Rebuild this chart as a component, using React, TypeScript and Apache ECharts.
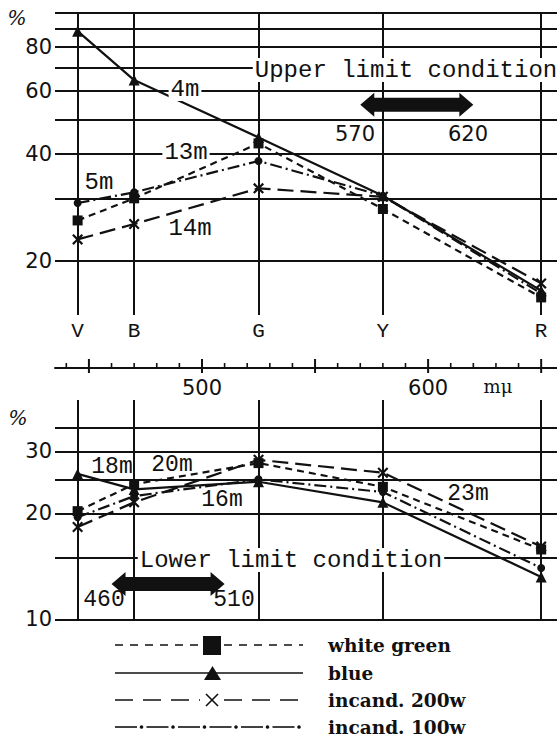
import React, { useEffect, useRef } from "react";
import * as echarts from "echarts";

// ---------- data ----------
const categories = ["V", "B", "G", "Y", "R"];
const wavelengths = [445, 470, 525, 580, 650];
const seriesNames = ["white green", "blue", "incand. 200w", "incand. 100w"];

// Upper limit condition (%)
const upperWhiteGreen = [26, 30, 42.8, 28, 15.8];
const upperBlue = [88.5, 64.5, 44.5, 30.5, 16.5];
const upper200w = [23, 25.4, 32, 30.3, 17.3];
const upper100w = [29.1, 31.2, 38.2, 30.5, 16.2];

// Lower limit condition (%)
const lowerWhiteGreen = [20.3, 24.2, 27.8, 23.8, 15.8];
const lowerBlue = [25.9, 23.4, 24.6, 21.5, 13.2];
const lower200w = [18.3, 21.5, 28.4, 26.1, 16.1];
const lower100w = [19.5, 22.4, 25, 23, 14];

const upperGridValues = [20, 30, 40, 50, 60, 70, 80, 90, 100];
const upperTickLabels = [20, 40, 60, 80];
const lowerGridValues = [10, 15, 20, 25, 30, 35];
const lowerTickLabels = [10, 20, 30];

const majorTicks = [450, 500, 550, 600, 650];
const minorTicks = [440, 460, 470, 480, 490, 510, 520, 530, 540, 560, 570, 580, 590, 610, 620, 630, 640];
const wavelengthLabels = [500, 600];

const upperRange = [570, 620];
const lowerRange = [460, 510];

// ---------- styles ----------
const INK = "#111";
const XPATH =
  "path://M0,1.4L1.4,0L5,3.6L8.6,0L10,1.4L6.4,5L10,8.6L8.6,10L5,6.4L1.4,10L0,8.6L3.6,5Z";
const lineTypes: any[] = [[7, 5], "solid", [16, 7], [12, 4, 2, 4]];
const symbols = ["rect", "triangle", XPATH, "circle"];
const symbolSizes = [10, 11, 11, 8];

const upperSeries = [upperWhiteGreen, upperBlue, upper200w, upper100w];
const lowerSeries = [lowerWhiteGreen, lowerBlue, lower200w, lower100w];

const MONO = "Liberation Mono";
const SANS = "DejaVu Sans";

function dataSeries(values: number[], idx: number, grid: number) {
  return {
    type: "line",
    name: seriesNames[idx],
    xAxisIndex: grid,
    yAxisIndex: grid,
    data: wavelengths.map((w, i) => [w, values[i]]),
    symbol: symbols[idx],
    symbolSize: symbolSizes[idx],
    lineStyle: { color: INK, width: 2.2, type: lineTypes[idx] },
    itemStyle: { color: INK },
    z: 5,
    silent: true,
  };
}

function gridLineSeries(grid: number, values: number[], labels: number[], withCats: boolean) {
  const data: any[] = values.map((v) => ({
    yAxis: v,
    label: {
      show: labels.includes(v),
      position: "start",
      formatter: String(v),
      distance: 3,
      fontFamily: SANS,
      fontSize: 21,
      color: INK,
    },
  }));
  wavelengths.forEach((w, i) => {
    data.push({
      xAxis: w,
      label: {
        show: withCats,
        position: "start",
        formatter: categories[i],
        distance: 6,
        fontFamily: MONO,
        fontSize: 21,
        color: INK,
      },
    });
  });
  return {
    type: "line",
    xAxisIndex: grid,
    yAxisIndex: grid,
    data: [],
    silent: true,
    z: 1,
    markLine: {
      silent: true,
      symbol: "none",
      animation: false,
      lineStyle: { color: INK, width: 2, type: "solid" },
      emphasis: { disabled: true },
      data,
    },
  };
}

function arrowSeries(grid: number, range: number[], yValue: number) {
  return {
    type: "custom",
    xAxisIndex: grid,
    yAxisIndex: grid,
    silent: true,
    z: 6,
    data: [[range[0], range[1], yValue]],
    renderItem: (params: any, api: any) => {
      const a = api.coord([api.value(0), api.value(2)]);
      const b = api.coord([api.value(1), api.value(2)]);
      const hl = 14, hh = 12, sh = 7;
      return {
        type: "polygon",
        shape: {
          points: [
            [a[0], a[1]],
            [a[0] + hl, a[1] - hh],
            [a[0] + hl, a[1] - sh],
            [b[0] - hl, b[1] - sh],
            [b[0] - hl, b[1] - hh],
            [b[0], b[1]],
            [b[0] - hl, b[1] + hh],
            [b[0] - hl, b[1] + sh],
            [a[0] + hl, a[1] + sh],
            [a[0] + hl, a[1] + hh],
          ],
        },
        style: { fill: INK },
      };
    },
  };
}

// tick marks of the wavelength scale (grid 2)
function tickSeries() {
  const data = [
    ...majorTicks.map((v) => [v, 1]),
    ...minorTicks.map((v) => [v, 0]),
  ];
  return {
    type: "custom",
    xAxisIndex: 2,
    yAxisIndex: 2,
    silent: true,
    z: 6,
    data,
    renderItem: (params: any, api: any) => {
      const p = api.coord([api.value(0), 0]);
      const major = api.value(1) === 1;
      return {
        type: "line",
        shape: { x1: p[0], y1: major ? p[1] + 5 : p[1], x2: p[0], y2: p[1] - (major ? 9 : 5) },
        style: { stroke: INK, lineWidth: major ? 2 : 1.6 },
      };
    },
  };
}

function txt(text: string, x: number, y: number, size: number, family: string, extra: any = {}) {
  return {
    type: "text",
    x,
    y,
    z: 50,
    silent: true,
    style: {
      text,
      fontSize: size,
      fontFamily: family,
      fill: INK,
      align: "center",
      verticalAlign: "middle",
      ...extra,
    },
  };
}

const bg = { backgroundColor: "#fff", padding: [0, 2] };

function legendGraphics() {
  const els: any[] = [];
  const rows = [645, 673, 700, 727];
  const x0 = 115, x1 = 303, mx = 212;
  const ln = (xa: number, xb: number, y: number, dash?: number[]) => ({
    type: "line",
    z: 50,
    silent: true,
    shape: { x1: xa, y1: y, x2: xb, y2: y },
    style: { stroke: INK, lineWidth: 1.6, lineDash: dash || null },
  });
  // white green
  els.push(ln(x0, 201, rows[0], [8, 7]));
  els.push(ln(224, x1, rows[0], [8, 7]));
  els.push({ type: "rect", z: 50, silent: true, shape: { x: 203, y: rows[0] - 9, width: 18, height: 19 }, style: { fill: INK } });
  // blue
  els.push(ln(x0, x1, rows[1]));
  els.push({
    type: "polygon",
    z: 50,
    silent: true,
    shape: { points: [[204, rows[1] + 7], [221, rows[1] + 7], [212.5, rows[1] - 7]] },
    style: { fill: INK },
  });
  // 200w
  els.push(ln(x0, 200, rows[2], [18, 10]));
  els.push(ln(224, x1, rows[2], [18, 10]));
  els.push({ type: "line", z: 50, silent: true, shape: { x1: mx - 6, y1: rows[2] - 6, x2: mx + 6, y2: rows[2] + 6 }, style: { stroke: INK, lineWidth: 1.6 } });
  els.push({ type: "line", z: 50, silent: true, shape: { x1: mx + 6, y1: rows[2] - 6, x2: mx - 6, y2: rows[2] + 6 }, style: { stroke: INK, lineWidth: 1.6 } });
  // 100w
  const period = 31.5;
  for (let k = 0; k < 6; k++) {
    const s = x0 + k * period;
    els.push(ln(s, s + 22, rows[3]));
    els.push({ type: "circle", z: 50, silent: true, shape: { cx: s + 26.5, cy: rows[3], r: 1.8 }, style: { fill: INK } });
  }
  seriesNames.forEach((n, i) => {
    els.push({
      type: "text",
      x: 328,
      y: rows[i],
      z: 50,
      silent: true,
      style: {
        text: n,
        fontSize: 18.5,
        fontFamily: "DejaVu Serif",
        fontWeight: "bold",
        fill: INK,
        align: "left",
        verticalAlign: "middle",
      },
    });
  });
  return els;
}

function buildOption() {
  const xCommon = { type: "value", min: 435, max: 657, splitLine: { show: false } };
  return {
    animation: false,
    backgroundColor: "#fff",
    textStyle: { fontFamily: SANS, color: INK },
    grid: [
      { left: 55, top: 12.3, width: 502, height: 302.7 },
      { left: 55, top: 400, width: 502, height: 219.4 },
      { left: 55, top: 340, width: 502, height: 28 },
    ],
    xAxis: [
      { ...xCommon, gridIndex: 0, show: false },
      { ...xCommon, gridIndex: 1, show: false },
      {
        ...xCommon,
        gridIndex: 2,
        position: "bottom",
        axisLine: { show: true, onZero: false, lineStyle: { color: INK, width: 2 } },
        axisTick: { show: false },
        axisLabel: { show: true, customValues: wavelengthLabels, margin: 9, fontFamily: SANS, fontSize: 21, color: INK },
      },
    ],
    yAxis: [
      { type: "log", logBase: 10, gridIndex: 0, min: 14.1, max: 100, show: false },
      { type: "log", logBase: 10, gridIndex: 1, min: 10, max: 42, show: false },
      { type: "value", gridIndex: 2, min: 0, max: 1, show: false },
    ],
    series: [
      gridLineSeries(0, upperGridValues, upperTickLabels, true),
      gridLineSeries(1, lowerGridValues, lowerTickLabels, false),
      ...upperSeries.map((v, i) => dataSeries(v, i, 0)),
      ...lowerSeries.map((v, i) => dataSeries(v, i, 1)),
      arrowSeries(0, upperRange, 55),
      arrowSeries(1, lowerRange, 12.6),
      tickSeries(),
    ],
    graphic: [
      txt("%", 17, 18, 20, "DejaVu Serif", { fontStyle: "italic" }),
      txt("%", 18, 418, 20, "DejaVu Serif", { fontStyle: "italic" }),
      txt("mμ", 498, 386, 18, "DejaVu Serif"),
      txt("Upper limit condition", 406, 70, 24, MONO, bg),
      txt("4m", 185, 89, 24, MONO, bg),
      txt("13m", 186, 152, 24, MONO, bg),
      txt("5m", 99, 182, 24, MONO),
      txt("14m", 190, 228, 24, MONO),
      txt("570", 355, 134, 21, SANS),
      txt("620", 468, 134, 21, SANS),
      txt("18m", 112, 467, 23, MONO),
      txt("20m", 172, 465, 23, MONO),
      txt("16m", 222, 500, 23, MONO),
      txt("23m", 468, 494, 23, MONO),
      txt("Lower limit condition", 291, 560, 24, MONO, bg),
      txt("460", 104, 600, 23, MONO),
      txt("510", 234, 600, 23, MONO),
      ...legendGraphics(),
    ],
  };
}

export default function App() {
  const ref = useRef<HTMLDivElement>(null);
  useEffect(() => {
    if (!ref.current) return;
    const chart = echarts.init(ref.current, undefined, { renderer: "svg" });
    chart.setOption(buildOption() as any);
    return () => chart.dispose();
  }, []);
  return (
    <div
      ref={ref}
      style={{ position: "absolute", left: 0, top: 0, width: 557, height: 742, background: "#fff" }}
    />
  );
}
